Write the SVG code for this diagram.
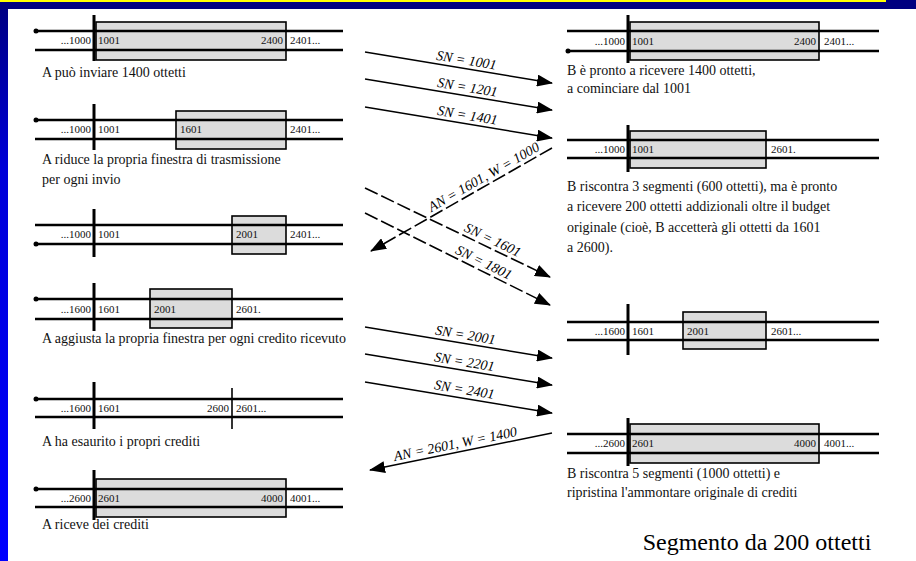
<svg xmlns="http://www.w3.org/2000/svg" width="916" height="561" viewBox="0 0 916 561">
<defs>
<linearGradient id="side" x1="0" y1="0" x2="0" y2="1">
<stop offset="0" stop-color="#000080"/>
<stop offset="0.3" stop-color="#0000d8"/>
<stop offset="1" stop-color="#0000ff"/>
</linearGradient>
<marker id="ah" viewBox="0 0 16 12" markerWidth="16" markerHeight="12" refX="15" refY="6" orient="auto" markerUnits="userSpaceOnUse">
<path d="M0,0 L16,6 L0,12 Z" fill="#000"/>
</marker>
<style>
.ln{stroke:#000;stroke-width:2.6;fill:none}
.vt{stroke:#000;stroke-width:3;fill:none}
.vt2{stroke:#000;stroke-width:1.6;fill:none}
.bx{fill:#dcdcdc;stroke:#000;stroke-width:1.6}
.nm{font-family:"Liberation Serif","Times New Roman",serif;font-size:11px;fill:#111}
.cap{font-family:"Liberation Serif","Times New Roman",serif;font-size:14px;fill:#111}
.lab{font-family:"Liberation Serif","Times New Roman",serif;font-size:14px;font-style:italic;fill:#000;text-anchor:middle}
.ar{stroke:#000;stroke-width:1.6;fill:none;marker-end:url(#ah)}
.dash{stroke-dasharray:14 4}
.end{text-anchor:end}
</style>
</defs>
<rect x="0" y="0" width="916" height="561" fill="#ffffff"/>
<rect x="0" y="0" width="8" height="561" fill="url(#side)"/>
<rect x="0" y="0" width="916" height="9" fill="#000080"/>
<rect x="0" y="0" width="886" height="2" fill="#ffff00"/>

<!-- Left column: sender A -->
<g id="a1" transform="translate(0,31)">
<rect class="bx" x="96" y="-9" width="190" height="38"/>
<line class="ln" x1="35" y1="0" x2="343" y2="0"/>
<line class="ln" x1="35" y1="19" x2="343" y2="19"/>
<line class="vt" x1="94" y1="-16" x2="94" y2="30"/>
<circle cx="36" cy="0" r="2.5"/>
<text class="nm end" x="91" y="13">...1000</text>
<text class="nm" x="98" y="13">1001</text>
<text class="nm end" x="283" y="13">2400</text>
<text class="nm" x="290" y="13">2401...</text>
<text class="cap" x="42" y="46">A può inviare 1400 ottetti</text>
</g>
<g id="a2" transform="translate(0,120)">
<rect class="bx" x="176" y="-9" width="110" height="38"/>
<line class="ln" x1="35" y1="0" x2="343" y2="0"/>
<line class="ln" x1="35" y1="19" x2="343" y2="19"/>
<line class="vt" x1="94" y1="-16" x2="94" y2="30"/>
<circle cx="36" cy="0" r="2.5"/>
<text class="nm end" x="91" y="13">...1000</text>
<text class="nm" x="98" y="13">1001</text>
<text class="nm" x="180" y="13">1601</text>
<text class="nm" x="290" y="13">2401...</text>
<text class="cap" x="42" y="44">A riduce la propria finestra di trasmissione</text>
<text class="cap" x="42" y="64">per ogni invio</text>
</g>
<g id="a3" transform="translate(0,225)">
<rect class="bx" x="232" y="-9" width="54" height="38"/>
<line class="ln" x1="35" y1="0" x2="343" y2="0"/>
<line class="ln" x1="35" y1="19" x2="343" y2="19"/>
<line class="vt" x1="94" y1="-16" x2="94" y2="32"/>
<circle cx="36" cy="19" r="2.5"/>
<text class="nm end" x="91" y="13">...1000</text>
<text class="nm" x="98" y="13">1001</text>
<text class="nm" x="236" y="13">2001</text>
<text class="nm" x="290" y="13">2401...</text>
</g>
<g id="a4" transform="translate(0,299)">
<rect class="bx" x="150" y="-10" width="82" height="39"/>
<line class="ln" x1="35" y1="0" x2="343" y2="0"/>
<line class="ln" x1="35" y1="20" x2="343" y2="20"/>
<line class="vt" x1="94" y1="-16" x2="94" y2="32"/>
<circle cx="36" cy="0" r="2.5"/>
<text class="nm end" x="91" y="14">...1600</text>
<text class="nm" x="98" y="14">1601</text>
<text class="nm" x="154" y="14">2001</text>
<text class="nm" x="236" y="14">2601.</text>
<text class="cap" x="42" y="44">A aggiusta la propria finestra per ogni credito ricevuto</text>
</g>
<g id="a5" transform="translate(0,399)">
<line class="ln" x1="35" y1="0" x2="343" y2="0"/>
<line class="ln" x1="35" y1="18" x2="343" y2="18"/>
<line class="vt" x1="94" y1="-17" x2="94" y2="30"/>
<line class="vt2" x1="232" y1="-11" x2="232" y2="30"/>
<circle cx="36" cy="0" r="2.5"/>
<text class="nm end" x="91" y="13">...1600</text>
<text class="nm" x="98" y="13">1601</text>
<text class="nm end" x="229" y="13">2600</text>
<text class="nm" x="236" y="13">2601...</text>
<text class="cap" x="42" y="47">A ha esaurito i propri crediti</text>
</g>
<g id="a6" transform="translate(0,489)">
<rect class="bx" x="96" y="-10" width="190" height="38"/>
<line class="ln" x1="35" y1="0" x2="343" y2="0"/>
<line class="ln" x1="35" y1="18" x2="343" y2="18"/>
<line class="vt" x1="94" y1="-19" x2="94" y2="31"/>
<circle cx="36" cy="0" r="2.5"/>
<text class="nm end" x="91" y="13">...2600</text>
<text class="nm" x="98" y="13">2601</text>
<text class="nm end" x="283" y="13">4000</text>
<text class="nm" x="290" y="13">4001...</text>
<text class="cap" x="42" y="40">A riceve dei crediti</text>
</g>

<!-- Right column: receiver B -->
<g id="b1" transform="translate(0,31)">
<rect class="bx" x="630" y="-9" width="189" height="38"/>
<line class="ln" x1="567" y1="0" x2="879" y2="0"/>
<line class="ln" x1="567" y1="20" x2="879" y2="20"/>
<line class="vt" x1="628" y1="-16" x2="628" y2="32"/>
<circle cx="568" cy="20" r="2.5"/>
<text class="nm end" x="625" y="14">...1000</text>
<text class="nm" x="632" y="14">1001</text>
<text class="nm end" x="816" y="14">2400</text>
<text class="nm" x="824" y="14">2401...</text>
<text class="cap" x="567" y="44">B è pronto a ricevere 1400 ottetti,</text>
<text class="cap" x="567" y="62">a cominciare dal 1001</text>
</g>
<g id="b2" transform="translate(0,140)">
<rect class="bx" x="630" y="-9" width="136" height="37"/>
<line class="ln" x1="567" y1="0" x2="879" y2="0"/>
<line class="ln" x1="567" y1="18" x2="879" y2="18"/>
<line class="vt" x1="628" y1="-15" x2="628" y2="32"/>
<text class="nm end" x="625" y="13">...1000</text>
<text class="nm" x="632" y="13">1001</text>
<text class="nm" x="771" y="13">2601.</text>
<text class="cap" x="567" y="51">B riscontra 3 segmenti (600 ottetti), ma è pronto</text>
<text class="cap" x="567" y="71">a ricevere 200 ottetti addizionali oltre il budget</text>
<text class="cap" x="567" y="92">originale (cioè, B accetterà gli ottetti da 1601</text>
<text class="cap" x="567" y="112">a 2600).</text>
</g>
<g id="b3" transform="translate(0,322)">
<rect class="bx" x="683" y="-10" width="83" height="37"/>
<line class="ln" x1="567" y1="0" x2="879" y2="0"/>
<line class="ln" x1="567" y1="18" x2="879" y2="18"/>
<line class="vt" x1="628" y1="-18" x2="628" y2="33"/>
<text class="nm end" x="625" y="13">...1600</text>
<text class="nm" x="632" y="13">1601</text>
<text class="nm" x="687" y="13">2001</text>
<text class="nm" x="771" y="13">2601...</text>
</g>
<g id="b4" transform="translate(0,434)">
<rect class="bx" x="630" y="-10" width="189" height="39"/>
<line class="ln" x1="567" y1="0" x2="879" y2="0"/>
<line class="ln" x1="567" y1="19" x2="879" y2="19"/>
<line class="vt" x1="628" y1="-16" x2="628" y2="32"/>
<text class="nm end" x="625" y="13">...2600</text>
<text class="nm" x="632" y="13">2601</text>
<text class="nm end" x="816" y="13">4000</text>
<text class="nm" x="824" y="13">4001...</text>
<text class="cap" x="567" y="44">B riscontra 5 segmenti (1000 ottetti) e</text>
<text class="cap" x="567" y="63">ripristina l'ammontare originale di crediti</text>
</g>

<!-- Connectors -->
<g id="connectors">
<line class="ar" x1="365" y1="52" x2="552" y2="83"/>
<text class="lab" x="465" y="64.6" transform="rotate(9.4 465 68.6)">SN = 1001</text>
<line class="ar" x1="365" y1="79" x2="552" y2="110"/>
<text class="lab" x="466" y="91.7" transform="rotate(9.4 466 95.7)">SN = 1201</text>
<line class="ar" x1="365" y1="107" x2="552" y2="138"/>
<text class="lab" x="466" y="119.7" transform="rotate(9.4 466 123.7)">SN = 1401</text>

<line class="ar dash" x1="552" y1="148" x2="371" y2="251"/>
<text class="lab" x="488" y="180.4" transform="rotate(-29.7 488 184.4)">AN = 1601, W = 1000</text>
<line class="ar dash" x1="365" y1="188" x2="550" y2="277"/>
<text class="lab" x="489" y="243.6" transform="rotate(25.7 489 247.6)">SN = 1601</text>
<line class="ar dash" x1="365" y1="213" x2="550" y2="305"/>
<text class="lab" x="480" y="266" transform="rotate(26.4 480 270)">SN = 1801</text>

<line class="ar" x1="365" y1="327" x2="552" y2="358"/>
<text class="lab" x="464" y="339.4" transform="rotate(9.4 464 343.4)">SN = 2001</text>
<line class="ar" x1="365" y1="354" x2="552" y2="385"/>
<text class="lab" x="463" y="366.2" transform="rotate(9.4 463 370.2)">SN = 2201</text>
<line class="ar" x1="365" y1="382" x2="552" y2="413"/>
<text class="lab" x="463" y="394" transform="rotate(9.4 463 398)">SN = 2401</text>

<line class="ar" x1="552" y1="433" x2="370" y2="470"/>
<text class="lab" x="457" y="448.3" transform="rotate(-11.5 457 452.3)">AN = 2601, W = 1400</text>
</g>

<text x="757" y="550" font-family="Liberation Serif, Times New Roman, serif" font-size="24" text-anchor="middle" fill="#000">Segmento da 200 ottetti</text>
</svg>
